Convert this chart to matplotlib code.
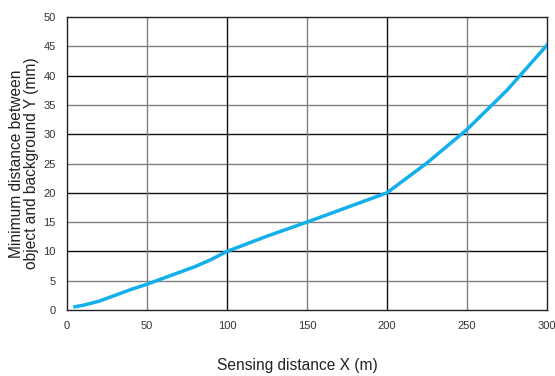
import matplotlib
matplotlib.use("Agg")

import numpy as np
import matplotlib.pyplot as plt

plt.rcParams['font.family'] = ['Liberation Sans', 'DejaVu Sans']

# 読み取ったデータ
x_dist = [5, 10, 20, 30, 40, 50, 60, 70, 80, 90, 100, 125, 150, 175, 200, 225, 250, 275, 300]
y_min = [0.55, 0.8, 1.5, 2.5, 3.5, 4.4, 5.4, 6.4, 7.4, 8.6, 10.0, 12.6, 15.0, 17.5, 20.0, 25.1, 30.8, 37.5, 45.2]

fig = plt.figure(figsize=(5.55, 3.76), dpi=100)
ax = fig.add_axes([67/555, 1-310/376, 480/555, 293/376])

ax.plot(x_dist, y_min, color="#12b0ea", linewidth=2.5, zorder=3)

ax.set_xlim(0, 300)
ax.set_ylim(0, 50)
ax.set_xticks(np.arange(0, 301, 50))
ax.set_yticks(np.arange(0, 51, 5))

# 主グリッド(黒)と補助グリッド(灰)
for v in range(5, 50, 5):
    c = "#111111" if v % 10 == 0 else "#808080"
    ax.axhline(v, color=c, linewidth=1.0, zorder=1)
for v in range(50, 300, 50):
    c = "#111111" if v % 100 == 0 else "#808080"
    ax.axvline(v, color=c, linewidth=1.0, zorder=1)

for s in ax.spines.values():
    s.set_color("#222222")
    s.set_linewidth(1.0)

ax.tick_params(length=0, labelsize=8, labelcolor="#333333", pad=8)
ax.set_xlabel("Sensing distance X (m)", fontsize=11.2, color="#222222")
ax.xaxis.set_label_coords(0.479, -0.163)
ax.set_ylabel("Minimum distance between\nobject and background Y (mm)", fontsize=11.2,
              labelpad=3, linespacing=1.0, color="#222222")

plt.savefig("out.png", dpi=100)
